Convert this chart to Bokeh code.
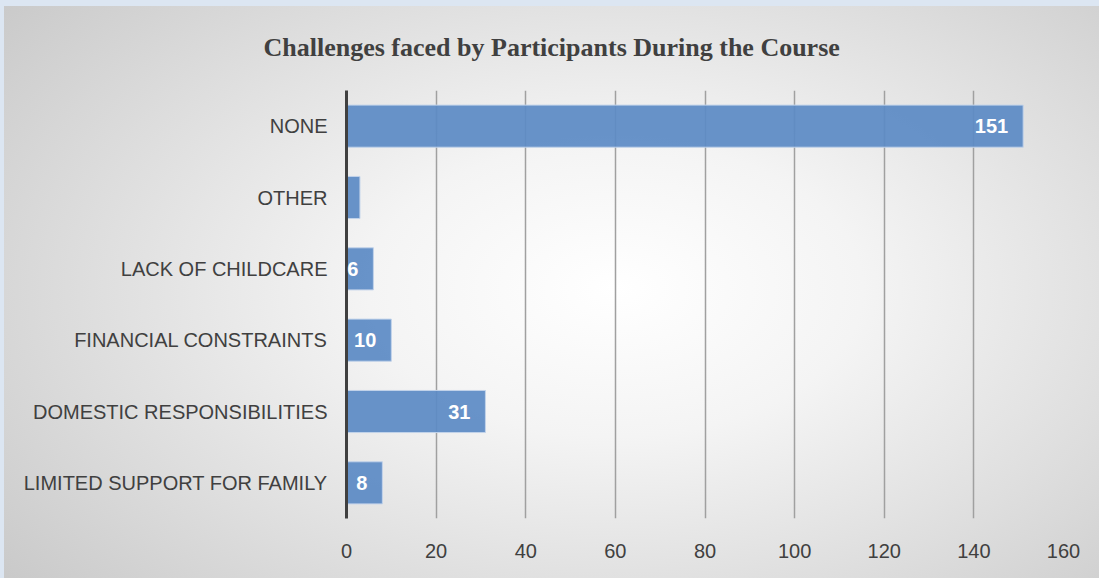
from bokeh.plotting import figure
from bokeh.models import ColumnDataSource, LabelSet, FixedTicker, GlobalInlineStyleSheet, Title
from bokeh.core.properties import value
from bokeh.embed import file_html
from bokeh.resources import INLINE

# Data (bottom to top)
categories = ["LIMITED SUPPORT FOR FAMILY", "DOMESTIC RESPONSIBILITIES", "FINANCIAL CONSTRAINTS",
              "LACK OF CHILDCARE", "OTHER", "NONE"]
values = [8, 31, 10, 6, 3, 151]
labels = ["8", "31", "10", "6", "", "151"]
x_ticks = [0, 20, 40, 60, 80, 100, 120, 140, 160]

src = ColumnDataSource(dict(cat=categories, val=values, lab=labels))

bg = ("linear-gradient(#dce6f2,#dce6f2) top left / 100% 6px no-repeat, "
      "linear-gradient(#dce6f2,#dce6f2) top left / 4px 100% no-repeat, "
      "radial-gradient(ellipse 75% 85% at 56% 50%, #ffffff 0%, #f4f4f4 30%, #c6c6c6 100%)")

p = figure(width=1099, height=578, y_range=categories, x_range=(0, 160),
           output_backend="svg", toolbar_location=None,
           min_border_left=346, min_border_right=36, min_border_top=90, min_border_bottom=60,
           styles={"background": bg},
           stylesheets=[GlobalInlineStyleSheet(css="html,body{margin:0 !important;padding:0;overflow:hidden;}")])
p.border_fill_color = None
p.background_fill_color = None
p.outline_line_color = None

t = Title(text="Challenges faced by Participants  During the Course", align="left",
          offset=-83, standoff=58, text_font="Liberation Serif", text_font_size="26px",
          text_font_style="bold", text_color="#404040")
p.add_layout(t, "above")

p.hbar(y="cat", right="val", left=0, height=0.59, source=src,
       fill_color="#5b8ac4", fill_alpha=0.92, line_color="#c2d3ea", line_width=1)

p.add_layout(LabelSet(x="val", y="cat", text="lab", source=src, x_offset=-15,
                      text_align="right", text_baseline="middle", text_color="white",
                      text_font=value("Liberation Sans"), text_font_style="bold",
                      text_font_size=value("20px")))

# y axis
p.yaxis.axis_line_color = "#404040"
p.yaxis.axis_line_width = 3
p.yaxis.major_tick_line_color = None
p.yaxis.minor_tick_line_color = None
p.yaxis.major_label_standoff = 13
p.yaxis.major_label_text_font = "Liberation Sans"
p.yaxis.major_label_text_font_size = "20px"
p.yaxis.major_label_text_color = "#404040"
p.ygrid.grid_line_color = None

# x axis
p.xaxis.ticker = FixedTicker(ticks=x_ticks)
p.xaxis.axis_line_color = None
p.xaxis.major_tick_line_color = None
p.xaxis.minor_tick_line_color = None
p.xaxis.major_label_standoff = 19
p.xaxis.major_label_text_font = "Liberation Sans"
p.xaxis.major_label_text_font_size = "20px"
p.xaxis.major_label_text_color = "#404040"
p.xgrid.ticker = FixedTicker(ticks=x_ticks)
p.xgrid.grid_line_color = "#a0a0a0"
p.xgrid.grid_line_width = 1.5

open("out.html", "w").write(file_html(p, INLINE))
